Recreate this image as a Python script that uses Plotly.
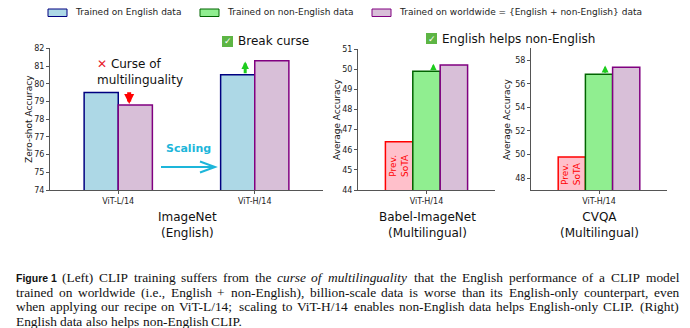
import plotly.graph_objects as go

# ---- data -------------------------------------------------------------
imagenet_models = ["ViT-L/14", "ViT-H/14"]
imagenet_english = [79.5, 80.5]
imagenet_worldwide = [78.8, 81.3]

multi_models = ["ViT-H/14"]
babel_prev_sota = [46.4]
babel_non_english = [49.9]
babel_worldwide = [50.2]

cvqa_prev_sota = [49.8]
cvqa_non_english = [56.8]
cvqa_worldwide = [57.4]

legend_labels = [
    "Trained on English data",
    "Trained on non-English data",
    "Trained on worldwide = {English + non-English} data",
]

caption_lines = [
    "(Left) CLIP training suffers from the *curse *of *multilinguality that the English performance of a CLIP model",
    "trained on worldwide (i.e., English + non-English), billion-scale data is worse than its English-only counterpart, even",
    "when applying our recipe on ViT-L/14; scaling to ViT-H/14 enables non-English data helps English-only CLIP. (Right)",
    "English data also helps non-English CLIP.",
]

# ---- styling ----------------------------------------------------------
W, H = 690, 328
BLUE, BLUE_EDGE = "#ADD8E6", "#000080"
PURPLE, PURPLE_EDGE = "#D8BFD8", "#800080"
GREEN, GREEN_EDGE = "#90EE90", "#006400"
PINK, RED = "#FFC0CB", "#FF0000"
ARROW_GREEN = "#1ECC1E"
CYAN = "#1DB6DA"
SANS = "DejaVu Sans"
SERIF = "Liberation Serif"


def px(x):
    return x / W


def py(y):
    return 1 - y / H


fig = go.Figure()

# ImageNet panel: English vs worldwide, two model sizes
idx = list(range(len(imagenet_models)))
fig.add_bar(x=[i - 0.125 for i in idx], y=imagenet_english, width=0.25,
            marker=dict(color=BLUE, line=dict(color=BLUE_EDGE, width=1.5)),
            xaxis="x", yaxis="y", showlegend=False)
fig.add_bar(x=[i + 0.125 for i in idx], y=imagenet_worldwide, width=0.25,
            marker=dict(color=PURPLE, line=dict(color=PURPLE_EDGE, width=1.5)),
            xaxis="x", yaxis="y", showlegend=False)

# multilingual panels: previous SoTA, non-English, worldwide
for ax, prev, nonen, world in [("2", babel_prev_sota, babel_non_english, babel_worldwide),
                               ("3", cvqa_prev_sota, cvqa_non_english, cvqa_worldwide)]:
    j = list(range(len(multi_models)))
    fig.add_bar(x=[i - 0.2 for i in j], y=prev, width=0.2,
                marker=dict(color=PINK, line=dict(color=RED, width=1.5)),
                xaxis="x" + ax, yaxis="y" + ax, showlegend=False)
    fig.add_bar(x=j, y=nonen, width=0.2,
                marker=dict(color=GREEN, line=dict(color=GREEN_EDGE, width=1.5)),
                xaxis="x" + ax, yaxis="y" + ax, showlegend=False)
    fig.add_bar(x=[i + 0.2 for i in j], y=world, width=0.2,
                marker=dict(color=PURPLE, line=dict(color=PURPLE_EDGE, width=1.5)),
                xaxis="x" + ax, yaxis="y" + ax, showlegend=False)

axis_common = dict(showline=True, linecolor="#555", linewidth=1, ticks="outside",
                   ticklen=3, tickcolor="#555", tickfont=dict(family=SANS, size=8, color="#222"),
                   showgrid=False, zeroline=False, fixedrange=True, automargin=False)

fig.update_layout(
    width=W, height=H, margin=dict(l=0, r=0, t=0, b=0),
    paper_bgcolor="white", plot_bgcolor="white", barmode="overlay",
    xaxis=dict(domain=[px(50), px(323)], range=[-0.5, 1.5], tickvals=idx,
               ticktext=imagenet_models, anchor="y", **axis_common),
    yaxis=dict(domain=[py(190), py(48.3)], range=[74, 82], dtick=1, anchor="x", **axis_common),
    xaxis2=dict(domain=[px(358), px(495)], range=[-0.5, 0.5], tickvals=[0],
                ticktext=multi_models, anchor="y2", **axis_common),
    yaxis2=dict(domain=[py(190), py(49)], range=[44, 51], dtick=1, anchor="x2", **axis_common),
    xaxis3=dict(domain=[px(531), px(667)], range=[-0.5, 0.5], tickvals=[0],
                ticktext=multi_models, anchor="y3", **axis_common),
    yaxis3=dict(domain=[py(190), py(48.3)], range=[47, 59], tickvals=[48, 50, 52, 54, 56, 58],
                anchor="x3", **axis_common),
)

ann = []
shapes = []


def text(x, y, s, size, color="#111", family=SANS, xanchor="center", yanchor="middle", **kw):
    ann.append(dict(x=px(x), y=py(y), xref="paper", yref="paper", text=s, showarrow=False,
                    xanchor=xanchor, yanchor=yanchor,
                    font=dict(family=family, size=size, color=color), **kw))


# y-axis titles
text(29, 119, "Zero-shot Accuracy", 9, textangle=-90)
text(337, 119, "Average Accuracy", 9, textangle=-90)
text(507, 119, "Average Accuracy", 9, textangle=-90)

# panel names
text(187, 225, "ImageNet<br>(English)", 12)
text(427, 225, "Babel-ImageNet<br>(Multilingual)", 12)
text(599, 225, "CVQA<br>(Multilingual)", 12)

# "Prev. SoTA" labels inside the red bars
for ax, prev, lo in [("2", babel_prev_sota, 44), ("3", cvqa_prev_sota, 47)]:
    ann.append(dict(x=-0.2, y=(lo + prev[0]) / 2, xref="x" + ax, yref="y" + ax,
                    text="Prev.<br>SoTA", textangle=-90, showarrow=False,
                    xanchor="center", yanchor="middle",
                    font=dict(family=SANS, size=9, color=RED)))

# change arrows
arrows = [
    ("", 0.08, 79.6, 78.85, RED, 4, 0.5),
    ("", 0.93, imagenet_english[1], 81.25, ARROW_GREEN, 3, 0.5),
    ("2", 0.05, babel_non_english[0], 50.27, ARROW_GREEN, 2, 0.65),
    ("3", 0.045, cvqa_non_english[0], 57.55, ARROW_GREEN, 2, 0.7),
]
for ax, x, y0, y1, col, w, hs in arrows:
    ann.append(dict(x=x, y=y1, ax=x, ay=y0, xref="x" + ax, yref="y" + ax,
                    axref="x" + ax, ayref="y" + ax, text="", showarrow=True,
                    arrowhead=2, arrowsize=hs, arrowwidth=w, arrowcolor=col))

# curse of multilinguality note
text(95, 71.5, "<span style='color:#E8202A'>✕</span> Curse of<br>multilinguality", 12,
     xanchor="left", align="left")

# check-box captions
for bx, by, label, tx in [(222, 36, "Break curse", 236), (426, 33, "English helps non-English", 440)]:
    shapes.append(dict(type="rect", xref="paper", yref="paper", x0=px(bx), x1=px(bx + 11),
                       y0=py(by + 11), y1=py(by), fillcolor="#5DB544", line=dict(width=0)))
    text(bx + 5.5, by + 5.5, "<b>✓</b>", 9, color="white", family=SANS)
    text(tx, by + 5.5, label, 12, xanchor="left")

# scaling arrow
text(188, 148, "<b>Scaling</b>", 11, color=CYAN)
shapes.append(dict(type="path", xref="paper", yref="paper",
                   path=f"M {px(161)},{py(167)} L {px(215)},{py(167)} "
                        f"M {px(200)},{py(161.5)} L {px(215)},{py(167)} L {px(200)},{py(172.5)}",
                   line=dict(color=CYAN, width=2)))

# legend row
legend_style = [(BLUE, BLUE_EDGE), (GREEN, GREEN_EDGE), (PURPLE, PURPLE_EDGE)]
legend_x = [48, 200, 372]
for (fc, ec), lx, lab in zip(legend_style, legend_x, legend_labels):
    shapes.append(dict(type="rect", xref="paper", yref="paper", x0=px(lx), x1=px(lx + 19),
                       y0=py(16.5), y1=py(9), fillcolor=fc, line=dict(color=ec, width=1)))
    text(lx + 25, 12.5, lab, 9, color="#222", xanchor="left")

# ---- caption, justified word by word --------------------------------
TIMES = {
    " ": 250, "a": 444, "b": 500, "c": 444, "d": 500, "e": 444, "f": 333, "g": 500, "h": 500,
    "i": 278, "j": 278, "k": 500, "l": 278, "m": 778, "n": 500, "o": 500, "p": 500, "q": 500,
    "r": 333, "s": 389, "t": 278, "u": 500, "v": 500, "w": 722, "x": 500, "y": 500, "z": 444,
    "A": 722, "B": 667, "C": 667, "D": 722, "E": 611, "F": 556, "G": 722, "H": 722, "I": 333,
    "J": 389, "K": 722, "L": 611, "M": 889, "N": 722, "O": 722, "P": 556, "Q": 722, "R": 667,
    "S": 556, "T": 611, "U": 722, "V": 722, "W": 944, "X": 722, "Y": 722, "Z": 611,
    "(": 333, ")": 333, ",": 250, ".": 250, "-": 333, "/": 278, ";": 278, "+": 564, ":": 278,
    "{": 480, "}": 480, "=": 564,
}
CAP_SIZE = 13.4
CAP_LEFT, CAP_RIGHT = 16, 679
cap_y = [277.5, 292, 306.5, 321]


def width(s, size):
    return sum(TIMES.get(c, 500) for c in s) / 1000 * size


text(CAP_LEFT - 2, cap_y[0], "<b>Figure 1</b>", 10.5, color="#111",
     family="Liberation Sans", xanchor="left")

for k, (line, yy) in enumerate(zip(caption_lines, cap_y)):
    words = line.split(" ")
    x0 = 62 if k == 0 else CAP_LEFT
    widths = [width(w.lstrip("*"), CAP_SIZE) for w in words]
    if k < len(caption_lines) - 1:
        gap = (CAP_RIGHT - x0 - sum(widths)) / (len(words) - 1)
    else:
        gap = width(" ", CAP_SIZE)
    cx = x0
    for w, ww in zip(words, widths):
        s = f"<i>{w[1:]}</i>" if w.startswith("*") else w
        text(cx - 2, yy, s, CAP_SIZE, family=SERIF, xanchor="left")
        cx += ww + gap

fig.update_layout(annotations=ann, shapes=shapes)
fig.write_html("out.html")
